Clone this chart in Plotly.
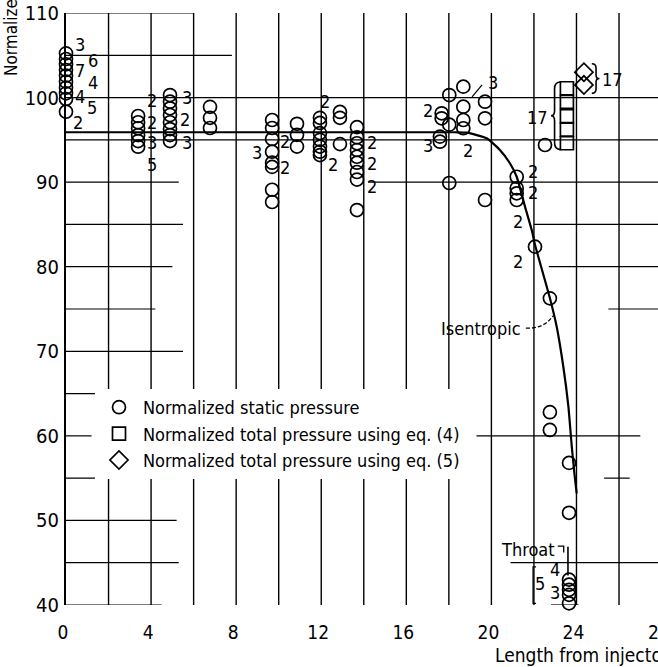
import plotly.graph_objects as go

# ---------------- data ----------------
# Normalized static pressure (circles): x = length from injector, y = normalized pressure
static_x = ([0.0] * 10 + [3.39] * 6 + [4.89] * 8 + [6.77] * 3 + [9.69] * 8 + [10.86] * 3
            + [11.94] * 7 + [12.88] * 3 + [13.68] * 9 + [17.66] * 2 + [17.58] * 2
            + [18.02] * 3 + [18.68] * 4 + [19.7] * 3 + [22.52] + [21.19] * 4 + [22.05]
            + [22.75] * 3 + [23.65] * 7)
static_y = ([105.23, 104.56, 103.93, 103.26, 102.59, 101.88, 101.17, 100.5, 99.83, 98.33]
            + [97.82, 97.08, 96.37, 95.57, 94.86, 94.19]
            + [100.3, 99.51, 98.73, 97.94, 97.08, 96.28, 95.57, 94.86]
            + [98.9, 97.6, 96.4]
            + [97.35, 96.4, 95.1, 93.6, 92.3, 91.8, 89.1, 87.65]
            + [96.9, 95.6, 94.2]
            + [97.6, 97.0, 95.8, 95.0, 94.2, 93.6, 93.2]
            + [98.3, 97.6, 94.5]
            + [96.5, 95.3, 94.6, 93.8, 93.0, 92.3, 91.2, 90.3, 86.7]
            + [98.14, 97.55] + [95.38, 94.78]
            + [100.3, 96.8, 89.9]
            + [101.29, 98.92, 97.35, 96.37]
            + [99.51, 97.55, 87.89]
            + [94.39]
            + [90.64, 89.27, 88.68, 87.89]
            + [82.37]
            + [76.26, 62.8, 60.7]
            + [56.8, 50.9, 43.0, 42.4, 41.8, 41.2, 40.2])

# Normalized total pressure using eq. (4) (squares)
total4_x = [23.55, 23.55, 23.55, 23.55, 23.55]
total4_y = [101.1, 99.5, 97.8, 96.2, 94.6]

# Normalized total pressure using eq. (5) (diamonds)
total5_x = [24.35, 24.35]
total5_y = [103.0, 101.5]

# Isentropic curve
isen_x = [0.0, 18.3, 18.84, 19.78, 20.4, 20.87, 21.19, 21.58, 21.9, 22.05, 22.75,
          23.07, 23.38, 23.62, 23.78, 23.9, 24.01]
isen_y = [95.9, 95.9, 95.85, 95.18, 93.8, 92.23, 90.64, 87.1, 84.3, 82.6, 76.3,
          72.9, 68.2, 63.45, 58.7, 55.6, 53.2]

# Number-of-coincident-points labels
count_text = ["3", "6", "7", "4", "4", "5", "2",
              "2", "2", "3", "5", "3", "2", "3",
              "3", "2", "2", "2", "2",
              "2", "2", "2",
              "2", "3", "3", "2",
              "2", "2", "2", "2",
              "4", "5", "3"]
count_x = [0.66, 1.27, 0.66, 1.27, 0.66, 1.22, 0.56,
           4.04, 4.04, 4.04, 4.04, 5.69, 5.59, 5.69,
           8.98, 10.3, 10.3, 12.18, 12.55,
           14.39, 14.39, 14.39,
           17.02, 17.02, 20.08, 18.9,
           21.96, 21.96, 21.25, 21.25,
           22.99, 22.29, 22.99]
count_y = [106.22, 104.44, 103.26, 101.84, 100.07, 98.88, 97.11,
           99.71, 97.11, 94.63, 92.03, 99.95, 97.35, 94.63,
           93.45, 94.75, 91.79, 99.48, 92.03,
           94.63, 92.26, 89.43,
           98.53, 94.39, 101.84, 93.8,
           91.2, 88.83, 85.29, 80.56,
           44.14, 42.6, 41.42]

x_ticks = [0, 4, 8, 12, 16, 20, 24]
y_ticks = [40, 50, 60, 70, 80, 90, 100, 110]

# grid layout of the original (partially drawn horizontal lines)
v_grid = list(range(2, 27, 2))
h_grid = {110: [(0, 6)], 105: [(0, 7.8)], 100: [(0, 27.9)], 95: [(0, 27.9)],
          90: [(0, 5.3), (14.2, 27.9)], 85: [(0, 5.5), (22.0, 27.9)],
          80: [(0, 5.0), (22.7, 27.9)], 75: [(0, 4.2), (25.5, 27.9)],
          70: [(0, 5.5)], 65: [(0, 5.4)], 60: [(0, 1.2), (19.3, 27.0)],
          55: [(0, 6.0), (25.3, 26.5)], 50: [(0, 5.2)],
          45: [(0, 5.3), (20.9, 27.9)], 40: [(0, 4.5), (22.8, 24.1)]}

XMAX = 592 / 21.27
FONT = "Liberation Sans Narrow, DejaVu Sans Condensed, Arial Narrow, sans-serif"

fig = go.Figure()

fig.add_trace(go.Scatter(x=isen_x, y=isen_y, mode="lines", showlegend=False,
                         line=dict(color="black", width=2.2, shape="spline", smoothing=0.5),
                         cliponaxis=False, hoverinfo="skip"))
fig.add_trace(go.Scatter(x=static_x, y=static_y, mode="markers",
                         name="Normalized static pressure", cliponaxis=False,
                         marker=dict(symbol="circle-open", size=13, color="black",
                                     line=dict(width=1.7, color="black"))))
fig.add_trace(go.Scatter(x=total4_x, y=total4_y, mode="markers",
                         name="Normalized total pressure using eq. (4)", cliponaxis=False,
                         marker=dict(symbol="square-open", size=13, color="black",
                                     line=dict(width=1.7, color="black"))))
fig.add_trace(go.Scatter(x=total5_x, y=total5_y, mode="markers",
                         name="Normalized total pressure using eq. (5)", cliponaxis=False,
                         marker=dict(symbol="diamond-open", size=14, color="black",
                                     line=dict(width=1.7, color="black"))))

shapes = []
for xv in v_grid:
    shapes.append(dict(type="line", xref="x", yref="y", x0=xv, x1=xv, y0=40, y1=110.3,
                       line=dict(color="black", width=1.4), layer="below"))
for yv, segs in h_grid.items():
    for a, b in segs:
        shapes.append(dict(type="line", xref="x", yref="y", x0=a, x1=b, y0=yv, y1=yv,
                           line=dict(color="black", width=1.2), layer="below"))

# brace for squares
sq_top, sq_bot = max(total4_y) + 0.75, min(total4_y) - 0.75
sq_mid = (sq_top + sq_bot) / 2
xl, xr, xt = 22.97, 23.25, 22.8
shapes.append(dict(type="path", xref="x", yref="y", layer="above",
                   path=(f"M {total4_x[0]-0.3},{sq_top} L {xr},{sq_top} Q {xl},{sq_top} {xl},{sq_top-0.8} "
                         f"L {xl},{sq_mid+0.6} Q {xl},{sq_mid} {xt},{sq_mid} "
                         f"Q {xl},{sq_mid} {xl},{sq_mid-0.6} L {xl},{sq_bot+0.8} "
                         f"Q {xl},{sq_bot} {xr},{sq_bot}"),
                   line=dict(color="black", width=1.6)))
# brace for diamonds
d_top, d_bot = max(total5_y) + 1.0, min(total5_y) - 1.0
d_mid = (d_top + d_bot) / 2
bl, br, bt = 24.72, 24.92, 25.08
shapes.append(dict(type="path", xref="x", yref="y", layer="above",
                   path=(f"M {bl},{d_top} Q {br},{d_top} {br},{d_top-0.5} L {br},{d_mid+0.4} "
                         f"Q {br},{d_mid} {bt},{d_mid} Q {br},{d_mid} {br},{d_mid-0.4} "
                         f"L {br},{d_bot+0.5} Q {br},{d_bot} {bl},{d_bot}"),
                   line=dict(color="black", width=1.6)))
# isentropic leader
shapes.append(dict(type="path", xref="x", yref="y", layer="above",
                   path="M 21.62,72.75 Q 22.45,72.6 22.9,74.2",
                   line=dict(color="black", width=1.3, dash="4px,2px")))
# throat leader
shapes.append(dict(type="path", xref="x", yref="y", layer="above",
                   path="M 23.12,46.95 L 23.4,46.95 L 23.4,46.2",
                   line=dict(color="black", width=1.3)))
shapes.append(dict(type="line", xref="x", yref="y", x0=23.6, x1=23.6, y0=46.9, y1=43.5,
                   line=dict(color="black", width=1.6), layer="above"))
# bracket beside "5"
shapes.append(dict(type="path", xref="x", yref="y", layer="above",
                   path="M 22.1,44.5 L 21.96,44.5 L 21.96,40.2 L 22.1,40.2",
                   line=dict(color="black", width=1.3)))
# "3" leader near x = 19
shapes.append(dict(type="line", xref="x", yref="y", x0=19.09, y0=100.07, x1=19.56, y1=101.49,
                   line=dict(color="black", width=1.2), layer="above"))

annotations = []
for t, xv, yv in zip(count_text, count_x, count_y):
    annotations.append(dict(x=xv, y=yv, xref="x", yref="y", text=t, showarrow=False,
                            font=dict(family=FONT, size=18, color="black")))
annotations.append(dict(x=22.19, y=97.7, xref="x", yref="y", text="17", showarrow=False,
                        font=dict(family=FONT, size=18, color="black")))
annotations.append(dict(x=25.1, y=102.08, xref="x", yref="y", text="17", showarrow=False,
                        xanchor="left", font=dict(family=FONT, size=18, color="black")))
annotations.append(dict(x=21.5, y=72.75, xref="x", yref="y", text="Isentropic", showarrow=False,
                        xanchor="right", font=dict(family=FONT, size=18, color="black")))
annotations.append(dict(x=23.1, y=46.6, xref="x", yref="y", text="Throat", showarrow=False,
                        xanchor="right", font=dict(family=FONT, size=18, color="black")))
# clipped tick label "28" and axis titles (cut by the picture edge)
annotations.append(dict(x=28 / XMAX, y=-0.045, xref="paper", yref="paper", text="28",
                        showarrow=False, xanchor="center", yanchor="middle",
                        xshift=-3, font=dict(family=FONT, size=19, color="black")))
annotations.append(dict(x=(493 - 66) / 592, y=(605 - 655) / 592, xref="paper", yref="paper",
                        text="Length from injector", showarrow=False, xanchor="left",
                        yanchor="middle", font=dict(family=FONT, size=19, color="black")))
annotations.append(dict(x=(11 - 66) / 592, y=(605 - 78) / 592, xref="paper", yref="paper",
                        text="Normalized pressure", showarrow=False, textangle=-90,
                        xanchor="center", yanchor="bottom",
                        font=dict(family=FONT, size=17, color="black")))

fig.update_layout(
    width=658, height=667,
    margin=dict(l=66, r=0, t=13, b=62),
    paper_bgcolor="white", plot_bgcolor="white",
    font=dict(family=FONT, size=18, color="black"),
    xaxis=dict(range=[0, XMAX], tickvals=x_ticks, ticktext=[str(v) for v in x_ticks],
               showgrid=False, zeroline=False, showline=False, ticks="",
               ticklabelstandoff=14, ticklabelshift=-3,
               tickfont=dict(family=FONT, size=19, color="black")),
    yaxis=dict(range=[40, 110], tickvals=y_ticks, ticktext=[str(v) for v in y_ticks],
               showgrid=False, zeroline=False, showline=True, linecolor="black", linewidth=2,
               ticks="", ticklabelstandoff=1,
               tickfont=dict(family=FONT, size=20, color="black")),
    legend=dict(x=(95 - 66) / 592, y=(605 - 389) / 592, xanchor="left", yanchor="top",
                bgcolor="white", borderwidth=0, font=dict(family=FONT, size=18, color="black"),
                itemwidth=38, tracegroupgap=0),
    shapes=shapes, annotations=annotations,
    showlegend=True,
)

fig.write_html("out.html")
